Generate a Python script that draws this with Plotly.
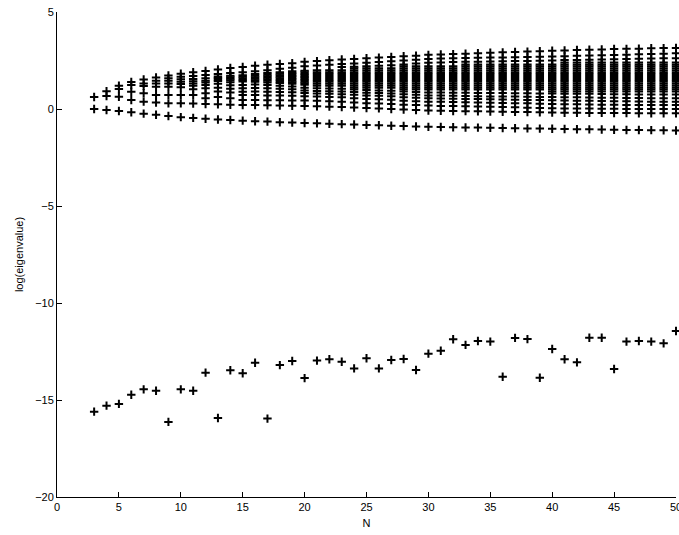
import plotly.graph_objects as go

# ---------------- data ----------------
N_values = list(range(3, 51))

# smallest eigenvalue (isolated points near -12 .. -16)
smallest = [-15.60, -15.29, -15.20, -14.73, -14.45, -14.52, -16.13, -14.45, -14.52, -13.59,
            -15.93, -13.47, -13.62, -13.08, -15.96, -13.20, -12.99, -13.87, -12.97, -12.90,
            -13.03, -13.37, -12.85, -13.37, -12.94, -12.89, -13.45, -12.61, -12.46, -11.87,
            -12.16, -11.96, -11.99, -13.80, -11.80, -11.86, -13.85, -12.37, -12.90, -13.06,
            -11.79, -11.79, -13.40, -11.99, -11.96, -11.99, -12.08, -11.44]

# second smallest eigenvalue (the lower row near 0 .. -1.1)
second_smallest = [0.00, -0.05, -0.10, -0.17, -0.24, -0.30, -0.36, -0.42, -0.46, -0.50,
                   -0.54, -0.57, -0.60, -0.63, -0.65, -0.68, -0.70, -0.72, -0.74, -0.76,
                   -0.78, -0.80, -0.82, -0.84, -0.86, -0.88, -0.90, -0.92, -0.93, -0.94,
                   -0.95, -0.96, -0.97, -0.98, -0.99, -1.00, -1.01, -1.02, -1.03, -1.04,
                   -1.05, -1.06, -1.07, -1.08, -1.08, -1.09, -1.10, -1.11]

# largest eigenvalue (top of each column)
largest = [0.62, 0.92, 1.20, 1.39, 1.52, 1.62, 1.73, 1.82, 1.90, 1.96,
           2.04, 2.11, 2.17, 2.23, 2.28, 2.32, 2.36, 2.43, 2.47, 2.51,
           2.55, 2.58, 2.62, 2.65, 2.68, 2.72, 2.75, 2.79, 2.81, 2.83,
           2.85, 2.87, 2.90, 2.92, 2.94, 2.96, 2.98, 3.00, 3.02, 3.04,
           3.06, 3.07, 3.09, 3.10, 3.11, 3.13, 3.14, 3.15]

# interior eigenvalues for the smaller sizes (N = 3 .. 20)
interior_small = {
    3: [],
    4: [0.67],
    5: [1.03, 0.63],
    6: [1.24, 0.89, 0.46],
    7: [1.32, 1.19, 0.81, 0.38],
    8: [1.46, 1.32, 1.15, 0.72, 0.33],
    9: [1.58, 1.46, 1.32, 1.15, 0.72, 0.29],
    10: [1.66, 1.53, 1.41, 1.29, 1.12, 0.72, 0.29],
    11: [1.70, 1.55, 1.43, 1.32, 1.20, 1.02, 0.72, 0.28],
    12: [1.75, 1.58, 1.46, 1.36, 1.24, 1.07, 0.81, 0.55, 0.26],
    13: [1.80, 1.68, 1.60, 1.52, 1.44, 1.30, 1.10, 0.90, 0.62, 0.24],
    14: [1.85, 1.72, 1.64, 1.56, 1.48, 1.38, 1.22, 1.05, 0.85, 0.55, 0.22],
    15: [1.90, 1.74, 1.66, 1.58, 1.50, 1.42, 1.24, 1.07, 0.89, 0.72, 0.46, 0.21],
    16: [1.95, 1.80, 1.72, 1.64, 1.56, 1.48, 1.40, 1.26, 1.08, 0.90, 0.72, 0.46, 0.20],
    17: [2.00, 1.85, 1.77, 1.69, 1.61, 1.53, 1.45, 1.37, 1.24, 1.07, 0.89, 0.70, 0.45, 0.19],
    18: [2.08, 1.90, 1.82, 1.74, 1.66, 1.58, 1.50, 1.42, 1.34, 1.20, 1.05, 0.88, 0.70, 0.45, 0.18],
    19: [2.12, 1.94, 1.86, 1.78, 1.70, 1.62, 1.54, 1.46, 1.38, 1.30, 1.16, 1.02, 0.86, 0.68, 0.44, 0.17],
    20: [2.20, 1.97, 1.89, 1.81, 1.73, 1.65, 1.57, 1.49, 1.41, 1.33, 1.25, 1.10, 0.95, 0.82, 0.66, 0.44, 0.16],
}

# N = 21 .. 50 : separate marks just under the top, the dense band, and the lower tail
upper_marks = [
    [2.24], [2.28], [2.32, 2.16], [2.35, 2.18], [2.38, 2.20], [2.42, 2.23], [2.46, 2.26],
    [2.50, 2.30], [2.54, 2.34], [2.58, 2.38], [2.60, 2.40], [2.62, 2.42], [2.63, 2.43],
    [2.64, 2.44], [2.65, 2.45], [2.66, 2.46], [2.67, 2.47], [2.68, 2.48], [2.69, 2.49],
    [2.70, 2.50], [2.72, 2.52], [2.74, 2.53], [2.76, 2.54], [2.77, 2.55], [2.78, 2.56],
    [2.80, 2.58], [2.82, 2.59], [2.84, 2.60], [2.85, 2.61], [2.87, 2.62],
]
tail_marks = [
    [1.07, 0.93, 0.80, 0.64, 0.42, 0.14], [1.06, 0.92, 0.78, 0.62, 0.40, 0.12],
    [1.04, 0.90, 0.76, 0.60, 0.38, 0.10], [1.00, 0.87, 0.73, 0.56, 0.34, 0.08],
    [0.98, 0.84, 0.70, 0.52, 0.30, 0.05], [0.96, 0.82, 0.68, 0.50, 0.28, 0.03],
    [0.94, 0.80, 0.66, 0.48, 0.26, 0.00], [0.90, 0.76, 0.60, 0.43, 0.22, -0.03],
    [0.88, 0.73, 0.58, 0.40, 0.20, -0.05], [0.85, 0.70, 0.55, 0.38, 0.18, -0.08],
    [0.85, 0.69, 0.54, 0.37, 0.16, -0.09], [0.84, 0.68, 0.53, 0.36, 0.15, -0.10],
    [0.84, 0.67, 0.52, 0.35, 0.14, -0.11], [0.83, 0.66, 0.51, 0.34, 0.13, -0.12],
    [0.82, 0.65, 0.50, 0.32, 0.11, -0.13], [0.82, 0.65, 0.49, 0.31, 0.10, -0.14],
    [0.81, 0.64, 0.48, 0.30, 0.09, -0.15], [0.81, 0.63, 0.47, 0.29, 0.07, -0.16],
    [0.80, 0.62, 0.46, 0.27, 0.05, -0.17], [0.80, 0.62, 0.45, 0.26, 0.04, -0.18],
    [0.79, 0.61, 0.44, 0.25, 0.03, -0.19], [0.78, 0.60, 0.43, 0.24, 0.02, -0.19],
    [0.78, 0.59, 0.42, 0.23, 0.02, -0.20], [0.77, 0.58, 0.41, 0.22, 0.01, -0.20],
    [0.76, 0.58, 0.40, 0.22, 0.01, -0.21], [0.76, 0.57, 0.40, 0.21, 0.00, -0.21],
    [0.75, 0.57, 0.39, 0.21, 0.00, -0.22], [0.75, 0.56, 0.38, 0.20, 0.00, -0.22],
    [0.75, 0.56, 0.38, 0.20, 0.00, -0.22], [0.75, 0.56, 0.38, 0.20, 0.00, -0.22],
]
band_a = [2.0, 1.9, 1.8, 1.7, 1.6, 1.5, 1.4, 1.3, 1.2]
band_b = [2.1, 2.0, 1.9, 1.8, 1.7, 1.6, 1.5, 1.4, 1.3, 1.2, 1.1]
band_c = [2.2, 2.1, 2.0, 1.9, 1.8, 1.7, 1.6, 1.5, 1.4, 1.3, 1.2, 1.1, 1.0]
band_d = [2.3, 2.2, 2.1, 2.0, 1.9, 1.8, 1.7, 1.6, 1.5, 1.4, 1.3, 1.2, 1.1, 1.0]
band_e = [2.3, 2.2, 2.1, 2.0, 1.9, 1.8, 1.7, 1.6, 1.5, 1.4, 1.3, 1.2, 1.1, 1.0, 0.9]
band_f = [2.4, 2.3, 2.2, 2.1, 2.0, 1.9, 1.8, 1.7, 1.6, 1.5, 1.4, 1.3, 1.2, 1.1, 1.0, 0.9]
band_for_N = {21: band_a, 22: band_a, 23: band_a,
              24: band_b, 25: band_b, 26: band_b, 27: band_b,
              28: band_c, 29: band_c, 30: band_c, 31: band_c, 32: band_c,
              33: band_d, 34: band_d, 35: band_d, 36: band_d, 37: band_d, 38: band_d, 39: band_d,
              40: band_e}
for n in range(41, 51):
    band_for_N[n] = band_f

x_ticks = [0, 5, 10, 15, 20, 25, 30, 35, 40, 45, 50]
y_ticks = [-20, -15, -10, -5, 0, 5]

# ---------------- assemble ----------------
xs, ys = [], []
for i, n in enumerate(N_values):
    if n <= 20:
        inner = interior_small[n]
    else:
        k = n - 21
        inner = upper_marks[k] + band_for_N[n] + tail_marks[k]
    vals = [smallest[i], second_smallest[i], largest[i]] + inner
    xs += [n] * len(vals)
    ys += vals

fig = go.Figure()
fig.add_trace(go.Scatter(
    x=xs, y=ys, mode="markers", cliponaxis=False,
    marker=dict(symbol="cross-thin", size=6, color="black",
                line=dict(width=2, color="black")),
    hoverinfo="x+y",
))

font = dict(family="Liberation Sans, Arial, Helvetica, sans-serif", size=11, color="black")
fig.update_layout(
    width=679, height=535,
    margin=dict(l=57, r=3, t=12, b=38),
    plot_bgcolor="white", paper_bgcolor="white",
    showlegend=False, font=font,
)
axis_common = dict(showline=True, linecolor="black", linewidth=1, ticks="inside",
                   ticklen=5, tickcolor="black", showgrid=False, zeroline=False,
                   automargin=False, mirror=False, tickfont=font,
                   ticklabeloverflow="allow")
fig.update_xaxes(range=[0, 50], tickvals=x_ticks, title=dict(text="N", standoff=7, font=font),
                 **axis_common)
fig.update_yaxes(range=[-20, 5], tickvals=y_ticks,
                 title=dict(text="log(eigenvalue)", standoff=9, font=font), **axis_common)

fig.write_html("out.html",
               config={"displayModeBar": False},
               post_script="document.body.style.margin='0';document.body.style.overflow='hidden';")
